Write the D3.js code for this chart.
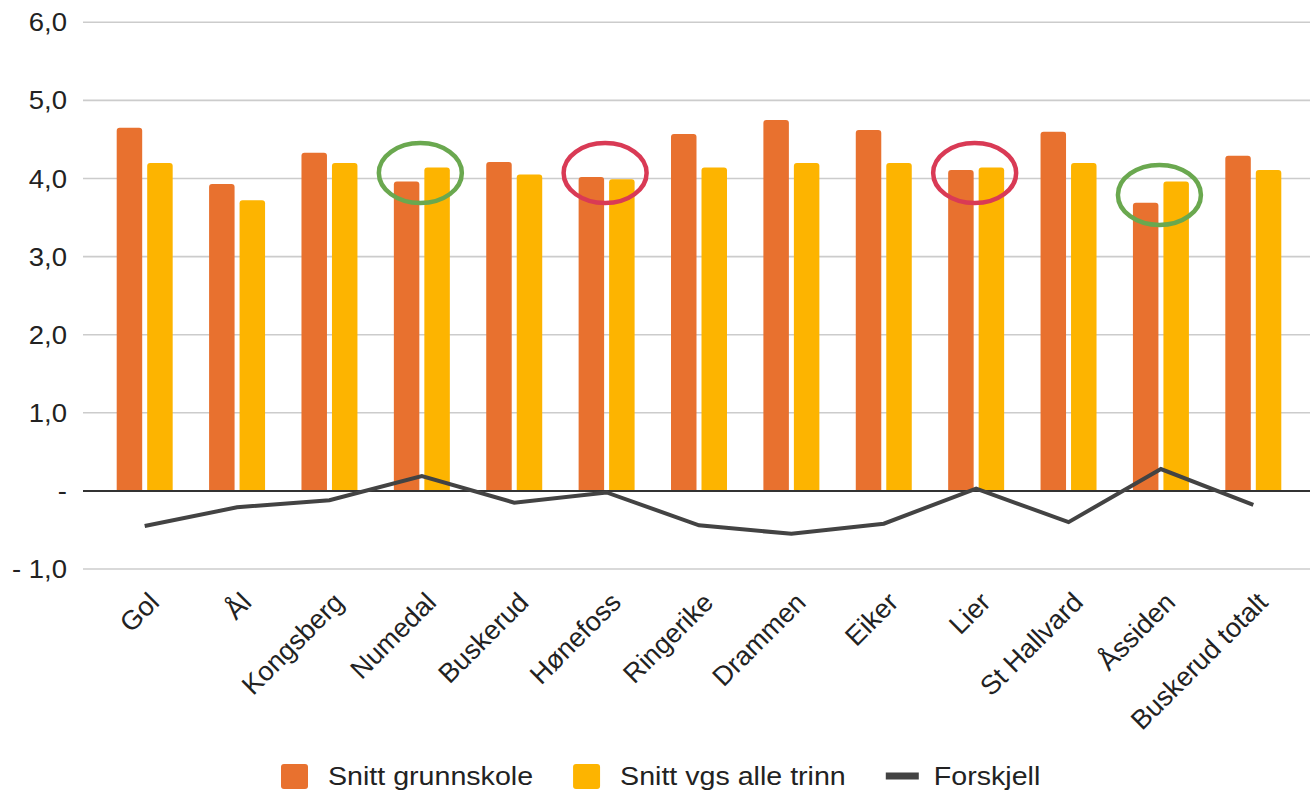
<!DOCTYPE html>
<html>
<head>
<meta charset="utf-8">
<script src="https://cdn.jsdelivr.net/npm/d3@7/dist/d3.min.js"></script>
<style>
  html, body { margin: 0; padding: 0; background: #fff; }
  svg { display: block; font-family: "Liberation Sans", Arial, sans-serif; }
</style>
</head>
<body>
<svg id="chart" width="1316" height="792"></svg>
<script>
const categories = ["Gol","Ål","Kongsberg","Numedal","Buskerud","Hønefoss","Ringerike","Drammen","Eiker","Lier","St Hallvard","Åssiden","Buskerud totalt"];
const grunnskole = [4.65,3.93,4.33,3.96,4.21,4.02,4.57,4.75,4.62,4.11,4.60,3.69,4.29];
const vgs = [4.20,3.72,4.20,4.14,4.05,3.99,4.14,4.20,4.20,4.14,4.20,3.96,4.11];
const forskjell = [-0.45,-0.21,-0.12,0.19,-0.15,-0.02,-0.44,-0.55,-0.42,0.03,-0.40,0.28,-0.18];
const yTicks = [-1,0,1,2,3,4,5,6];
const yTickLabels = ["- 1,0","-","1,0","2,0","3,0","4,0","5,0","6,0"];
const seriesNames = ["Snitt grunnskole","Snitt vgs alle trinn","Forskjell"];
// hand-drawn highlight ellipses (category, value at centre, colour)
const markCategories = ["Numedal","Hønefoss","Lier","Åssiden"];
const markValues = [4.07,4.07,4.07,3.79];
const markColors = ["#6AA84F","#D93A55","#D93A55","#6AA84F"];
const colors = { g: "#E8712F", v: "#FDB400", line: "#434343" };

const svg = d3.select("#chart");
const gridLeft = 83, gridRight = 1310;

const y = d3.scaleLinear().domain([-1, 6]).range([569, 22.3]);
const x0 = d3.scaleBand().domain(categories).range([98.5, 1299.5]).paddingInner(0.394).paddingOuter(0.197);
const x1 = d3.scaleBand().domain(["g","v"]).range([0, x0.bandwidth()]).paddingInner(0.164);

// gridlines
svg.append("g").selectAll("line").data(yTicks.filter(d => d !== 0)).join("line")
  .attr("x1", gridLeft).attr("x2", gridRight)
  .attr("y1", d => y(d)).attr("y2", d => y(d))
  .attr("stroke", "#cccccc").attr("stroke-width", 1.6);

// y labels
svg.append("g").selectAll("text").data(yTicks).join("text")
  .attr("transform", d => `translate(67,${y(d)}) scale(1.1,1)`)
  .attr("text-anchor", "end").attr("dy", "0.36em")
  .attr("font-size", 25).attr("fill", "#222")
  .text((d, i) => yTickLabels[i]);

function topRounded(x, yTop, w, yBase, r) {
  r = Math.min(r, w / 2, Math.abs(yBase - yTop));
  return `M${x},${yBase}V${yTop + r}Q${x},${yTop} ${x + r},${yTop}H${x + w - r}Q${x + w},${yTop} ${x + w},${yTop + r}V${yBase}Z`;
}

const rows = categories.map((c, i) => ({ c, g: grunnskole[i], v: vgs[i], f: forskjell[i] }));
const groups = svg.append("g").selectAll("g").data(rows).join("g")
  .attr("transform", d => `translate(${x0(d.c)},0)`);
["g","v"].forEach(k => {
  groups.append("path")
    .attr("d", d => topRounded(x1(k), y(d[k]), x1.bandwidth(), y(0), 3))
    .attr("fill", colors[k]);
});

// zero line
svg.append("line").attr("x1", gridLeft).attr("x2", gridRight)
  .attr("y1", y(0)).attr("y2", y(0)).attr("stroke", "#333").attr("stroke-width", 2);

// difference line
const line = d3.line().x(d => x0(d.c) + x0.bandwidth() / 2).y(d => y(d.f));
svg.append("path").datum(rows).attr("d", line)
  .attr("fill", "none").attr("stroke", colors.line).attr("stroke-width", 4)
  .attr("stroke-linejoin", "miter");

// highlight ellipses
svg.append("g").selectAll("ellipse").data(markCategories).join("ellipse")
  .attr("cx", d => x0(d) + x0.bandwidth() / 2 - 1.5)
  .attr("cy", (d, i) => y(markValues[i]))
  .attr("rx", 41.5).attr("ry", 30)
  .attr("fill", "none").attr("stroke-width", 4.5)
  .attr("stroke", (d, i) => markColors[i]);

// x labels
svg.append("g").selectAll("text").data(categories).join("text")
  .attr("transform", d => `translate(${x0(d) + x0.bandwidth() / 2 + 16},604) rotate(-45)`)
  .attr("text-anchor", "end").attr("font-size", 27).attr("fill", "#222")
  .text(d => d);

// legend
const legend = svg.append("g");
let lx = 281;
const ly = 776;
seriesNames.forEach((name, i) => {
  if (i < 2) {
    legend.append("rect").attr("x", lx).attr("y", ly - 12).attr("width", 27).attr("height", 25)
      .attr("rx", 3).attr("fill", i === 0 ? colors.g : colors.v);
    lx += 27 + 20;
  } else {
    legend.append("rect").attr("x", lx).attr("y", ly - 3.5).attr("width", 33).attr("height", 7)
      .attr("fill", colors.line);
    lx += 33 + 15;
  }
  const t = legend.append("text").attr("transform", `translate(${lx},${ly}) scale(1.1,1)`)
    .attr("dy", "0.36em").attr("font-size", 26).attr("fill", "#222").text(name);
  lx += t.node().getComputedTextLength() * 1.1 + 40;
});
</script>
</body>
</html>
